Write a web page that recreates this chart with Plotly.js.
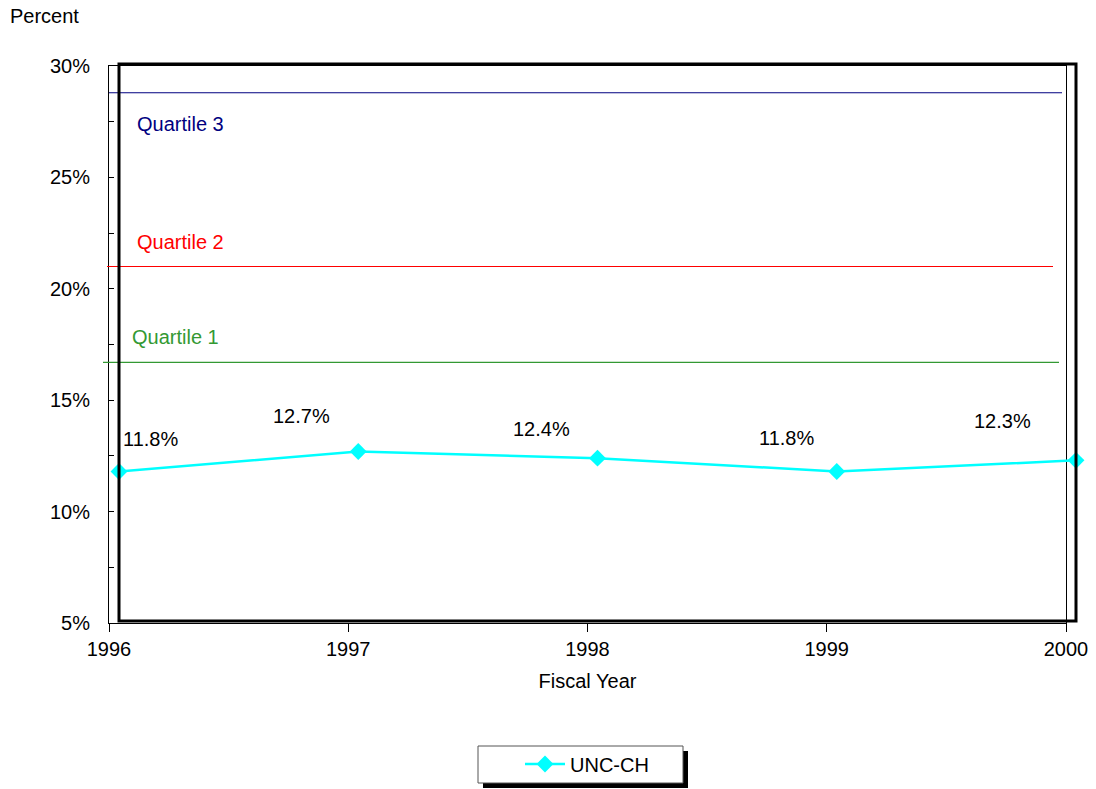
<!DOCTYPE html>
<html>
<head>
<meta charset="utf-8">
<script src="https://cdn.plot.ly/plotly-3.0.1.min.js"></script>
<style>html,body{margin:0;padding:0;background:#fff;}#chart{width:1096px;height:789px;}</style>
</head>
<body>
<div id="chart"></div>
<script>
// ---- data ----
var years = [1996, 1997, 1998, 1999, 2000];
var uncValues = [11.8, 12.7, 12.4, 11.8, 12.3];
var uncLabels = ['11.8%', '12.7%', '12.4%', '11.8%', '12.3%'];
var quartileNames = ['Quartile 3', 'Quartile 2', 'Quartile 1'];
var quartileValues = [28.8, 21.0, 16.7];
var quartileColors = ['#000080', '#ff0000', '#339933'];
var yTickValues = [5, 10, 15, 20, 25, 30];
var yTickText = ['5%', '10%', '15%', '20%', '25%', '30%'];

// ---- layout helpers (pixel geometry) ----
var plotW = 967;           // total plot area width incl. depth offset
var plotH = 557;
var depth = 10;            // horizontal offset of series/thick frame
var px = function (x) { return (x - 109) / plotW; };
var py = function (y) { return (623 - y) / plotH; };

var labelShifts = [[31, 33], [-57, 35], [-56, 29], [-50, 34], [-74, 39]];
var qLineX = [[109, 1062], [107, 1053], [103, 1059]];
var qLabelPos = [[180, 124], [180, 242], [175, 337]];

var font = 'Liberation Sans, Arial, sans-serif';
var fs = 20;

var traces = [{
  // invisible companion trace so the framed x/y subplot is drawn
  x: years, y: uncValues, xaxis: 'x', yaxis: 'y',
  type: 'scatter', mode: 'markers', marker: {opacity: 0},
  showlegend: false, hoverinfo: 'skip'
}, {
  x: years, y: uncValues, xaxis: 'x2', yaxis: 'y',
  type: 'scatter', mode: 'lines+markers', name: 'UNC-CH',
  line: {color: '#00ffff', width: 2.5},
  marker: {symbol: 'diamond', size: 13, color: '#00ffff'},
  cliponaxis: false
}];

var shapes = [];
var annotations = [];

// quartile lines + labels
for (var i = 0; i < quartileNames.length; i++) {
  shapes.push({type: 'line', xref: 'paper', yref: 'y',
    x0: px(qLineX[i][0]), x1: px(qLineX[i][1]),
    y0: quartileValues[i], y1: quartileValues[i],
    line: {color: quartileColors[i], width: 1.2}, layer: 'above'});
  annotations.push({xref: 'paper', yref: 'paper', x: px(qLabelPos[i][0]), y: py(qLabelPos[i][1]),
    text: quartileNames[i], showarrow: false, xanchor: 'center', yanchor: 'middle',
    font: {family: font, size: fs, color: quartileColors[i]}});
}

// thick frame (offset)
shapes.push({type: 'rect', xref: 'paper', yref: 'paper',
  x0: depth / plotW, x1: 1, y0: 2 / plotH, y1: 1 + 2 / plotH,
  line: {color: '#000', width: 3}, fillcolor: 'rgba(0,0,0,0)', layer: 'above'});

// legend box with shadow
shapes.push({type: 'rect', xref: 'paper', yref: 'paper',
  x0: px(483), x1: px(688), y0: py(788), y1: py(751),
  line: {width: 0}, fillcolor: '#000', layer: 'below'});
shapes.push({type: 'rect', xref: 'paper', yref: 'paper',
  x0: px(478), x1: px(683), y0: py(783), y1: py(746),
  line: {color: '#555', width: 1}, fillcolor: '#fff', layer: 'below'});

// data labels
for (var j = 0; j < years.length; j++) {
  annotations.push({xref: 'x2', yref: 'y', x: years[j], y: uncValues[j],
    text: uncLabels[j], showarrow: false, xshift: labelShifts[j][0], yshift: labelShifts[j][1],
    font: {family: font, size: fs, color: '#000'}});
}

// "Percent" title
annotations.push({xref: 'paper', yref: 'paper', x: px(8), y: py(16),
  xanchor: 'left', yanchor: 'middle', text: 'Percent', showarrow: false,
  font: {family: font, size: fs, color: '#000'}});

var layout = {
  width: 1096, height: 789,
  margin: {l: 109, r: 20, t: 66, b: 166, pad: 0, autoexpand: false},
  paper_bgcolor: '#fff', plot_bgcolor: 'rgba(0,0,0,0)',
  showlegend: true,
  legend: {xref: 'container', yref: 'container', x: 520 / 1096, y: 1 - 764 / 789,
    xanchor: 'left', yanchor: 'middle',
    bgcolor: 'rgba(0,0,0,0)', borderwidth: 0,
    font: {family: font, size: fs, color: '#000'}, itemwidth: 40},
  xaxis: {domain: [0, 957 / plotW], range: [1996, 2000], tickvals: years,
    ticktext: years.map(String), showgrid: false, zeroline: false,
    showline: true, mirror: true, linecolor: '#000', linewidth: 1,
    ticks: 'outside', ticklen: 8, tickcolor: '#000',
    tickfont: {family: font, size: fs, color: '#000'},
    title: {text: 'Fiscal Year', font: {family: font, size: fs, color: '#000'}, standoff: 14},
    fixedrange: true},
  xaxis2: {domain: [depth / plotW, 1], range: [1996, 2000],
    anchor: 'y', visible: false, showgrid: false, zeroline: false},
  yaxis: {range: [5, 30], tickvals: yTickValues, ticktext: yTickText,
    showgrid: false, zeroline: false,
    showline: true, mirror: true, linecolor: '#000', linewidth: 1,
    ticks: 'inside', ticklen: 5, tickcolor: '#000',
    minor: {dtick: 2.5, ticks: 'inside', ticklen: 5, tickcolor: '#000', showgrid: false},
    ticklabelstandoff: 14,
    tickfont: {family: font, size: fs, color: '#000'}},
  shapes: shapes,
  annotations: annotations
};

Plotly.newPlot('chart', traces, layout, {displayModeBar: false, staticPlot: true});
</script>
</body>
</html>
